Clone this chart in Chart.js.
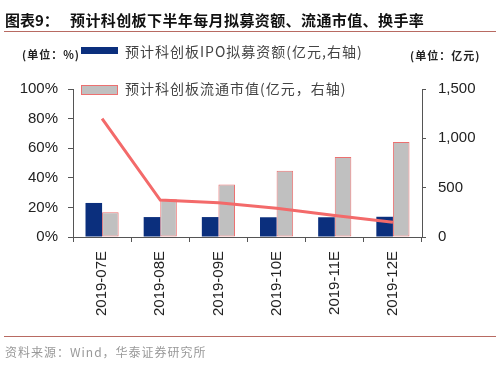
<!DOCTYPE html>
<html>
<head>
<meta charset="utf-8">
<script src="https://cdn.jsdelivr.net/npm/chart.js"></script>
<style>
body{margin:0;background:#fff;}
#wrap{position:relative;width:500px;height:366px;overflow:hidden;font-family:"Noto Sans CJK SC",sans-serif;}
#chart{position:absolute;left:0;top:0;}
.t{position:absolute;white-space:nowrap;line-height:1;}
.rule{position:absolute;left:4px;width:492px;height:0;border-top:1.5px solid #b86a62;}
.box{position:absolute;left:81px;width:37px;}
</style>
</head>
<body>
<div id="wrap">
<canvas id="chart" width="500" height="366"></canvas>
<div class="t" style="left:5px;top:12px;font-size:15px;font-weight:bold;color:#111;">图表9：</div>
<div class="t" style="left:70px;top:12px;font-size:15px;font-weight:bold;color:#111;letter-spacing:0.4px;">预计科创板下半年每月拟募资额、流通市值、换手率</div>
<div class="rule" style="top:31px;"></div>
<div class="t" style="left:22px;top:49px;font-size:11px;font-weight:bold;color:#222;letter-spacing:1px;">(单位：%)</div>
<div class="t" style="left:410px;top:50px;font-size:11px;font-weight:bold;color:#222;letter-spacing:1px;">(单位：亿元)</div>
<div class="box" style="top:47px;height:7px;background:#0b2f7d;"></div>
<div class="t" id="lg1" style="left:125px;top:44px;font-size:14px;color:#444;letter-spacing:1px;"></div>
<div class="box" style="top:85px;height:8px;background:#c0c0c0;border:1px solid #ec7070;width:35px;"></div>
<div class="t" id="lg2" style="left:125px;top:81px;font-size:14px;color:#444;letter-spacing:1px;"></div>
<div class="rule" style="top:336px;"></div>
<div class="t" style="left:5px;top:346px;font-size:12px;color:#999;letter-spacing:1px;">资料来源：Wind，华泰证券研究所</div>
</div>
<script>
// categories
const months = ["2019-07E", "2019-08E", "2019-09E", "2019-10E", "2019-11E", "2019-12E"];
// 预计科创板IPO拟募资额 (亿元, right axis)
const ipoAmount = [345, 202, 202, 200, 200, 205];
// 预计科创板流通市值 (亿元, right axis)
const floatValue = [250, 382, 532, 672, 812, 962];
// 换手率 (%, left axis)
const turnover = [80, 25, 23.2, 19.5, 14.6, 10];
// tick labels
const leftTicks = ["0%", "20%", "40%", "60%", "80%", "100%"];
const rightTicks = ["0", "500", "1,000", "1,500"];
const seriesNames = ["预计科创板IPO拟募资额(亿元,右轴)", "预计科创板流通市值(亿元，右轴)", "换手率"];

document.getElementById("lg1").textContent = seriesNames[0];
document.getElementById("lg2").textContent = seriesNames[1];

const axisColor = "#555";
const tickFont = {family: "Liberation Sans", size: 15};

new Chart(document.getElementById("chart"), {
  type: "bar",
  data: {
    labels: months,
    datasets: [
      {
        type: "line",
        label: seriesNames[2],
        data: turnover,
        yAxisID: "y",
        borderColor: "#f36a6a",
        borderWidth: 3,
        pointRadius: 0,
        fill: false,
        tension: 0,
        order: 0
      },
      {
        label: seriesNames[0],
        data: ipoAmount,
        yAxisID: "y1",
        backgroundColor: "#0b2f7d",
        borderWidth: 0,
        barPercentage: 1,
        categoryPercentage: 0.57,
        order: 1
      },
      {
        label: seriesNames[1],
        data: floatValue,
        yAxisID: "y1",
        backgroundColor: "#c0c0c0",
        borderColor: "#ec7070",
        borderWidth: 1,
        borderSkipped: false,
        barPercentage: 1,
        categoryPercentage: 0.57,
        order: 1
      }
    ]
  },
  options: {
    responsive: false,
    animation: false,
    devicePixelRatio: 1,
    layout: {padding: {top: 89, left: 0, right: 0, bottom: 0}},
    plugins: {legend: {display: false}, tooltip: {enabled: false}},
    scales: {
      x: {
        afterFit: (s) => { s.height = 129; },
        grid: {offset: true, drawOnChartArea: false, drawTicks: true, tickLength: 5, color: axisColor},
        border: {display: true, color: axisColor},
        ticks: {font: tickFont, color: "#222", maxRotation: 90, minRotation: 90, padding: 9}
      },
      y: {
        position: "left",
        min: 0,
        max: 100,
        afterFit: (s) => { s.width = 73; },
        grid: {drawOnChartArea: false, drawTicks: true, tickLength: 5, color: axisColor},
        border: {display: true, color: axisColor},
        ticks: {stepSize: 20, font: tickFont, color: "#222", padding: 10,
          callback: (v, i) => leftTicks[i]}
      },
      y1: {
        position: "right",
        min: 0,
        max: 1500,
        afterFit: (s) => { s.width = 78; },
        grid: {drawOnChartArea: false, drawTicks: true, tickLength: 4, color: axisColor},
        border: {display: true, color: axisColor},
        ticks: {stepSize: 500, font: tickFont, color: "#222", padding: 12,
          callback: (v, i) => rightTicks[i]}
      }
    }
  }
});
</script>
</body>
</html>
